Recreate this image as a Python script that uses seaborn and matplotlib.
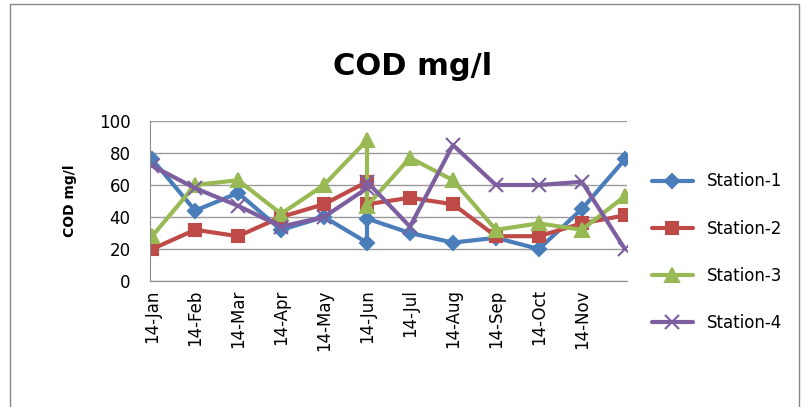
import matplotlib
matplotlib.use('Agg')
import matplotlib.pyplot as plt
import seaborn as sns
import pandas as pd

# month positions (Jun appears twice on the date axis)
xpos = [0, 1, 2, 3, 4, 5, 5, 6, 7, 8, 9, 10, 11]
tick_labels = ['14-Jan', '14-Feb', '14-Mar', '14-Apr', '14-May', '14-Jun',
               '14-Jul', '14-Aug', '14-Sep', '14-Oct', '14-Nov']
station1 = [76, 44, 55, 32, 40, 24, 39, 30, 24, 27, 20, 45, 76]
station2 = [20, 32, 28, 40, 48, 62, 48, 52, 48, 28, 28, 36, 41]
station3 = [28, 60, 63, 42, 60, 88, 47, 77, 63, 32, 36, 32, 53]
station4 = [72, 58, 47, 34, 40, 58, 62, 34, 85, 60, 60, 62, 20]

sns.set_style('white')
plt.rcParams['text.color'] = 'black'
plt.rcParams['xtick.color'] = 'black'
plt.rcParams['ytick.color'] = 'black'
plt.rcParams['axes.labelcolor'] = 'black'
fig = plt.figure(figsize=(8.1, 4.07), dpi=100)
ax = fig.add_axes([150/810, 1-281/407, 477/810, 160/407])

styles = [('Station-1', station1, '#4a7ebb', 'D', 7),
          ('Station-2', station2, '#be4b48', 's', 9),
          ('Station-3', station3, '#98b954', '^', 10),
          ('Station-4', station4, '#7d5fa0', 'x', 10)]
for name, vals, col, mk, ms in styles:
    df = pd.DataFrame({'x': xpos, 'y': vals})
    sns.lineplot(data=df, x='x', y='y', ax=ax, color=col, lw=3, marker=mk,
                 markersize=ms, markeredgecolor=col, markeredgewidth=1.5,
                 label=name, sort=False, estimator=None)

ax.set_xlim(-0.05, 11.05)
ax.set_ylim(0, 100)
ax.set_yticks(range(0, 101, 20))
ax.yaxis.grid(True, color='#9a9a9a', lw=1)
ax.set_xticks(range(len(tick_labels)))
ax.set_xticklabels(tick_labels, rotation=90, fontsize=12)
ax.tick_params(axis='y', labelsize=12, length=0, pad=14)
ax.tick_params(axis='x', length=0, pad=6)
for s in ['top', 'right']:
    ax.spines[s].set_visible(False)
ax.spines['left'].set_color('#8a8a8a')
ax.spines['bottom'].set_color('#8a8a8a')
ax.set_xlabel('')
ax.set_ylabel('COD mg/l', fontsize=10, fontweight='bold', labelpad=16)
fig.text(0.51, 0.815, 'COD mg/l', ha='center', fontsize=22, fontweight='bold')
ax.legend(loc='center left', bbox_to_anchor=(1.02, 0.18), frameon=False,
          fontsize=12, labelspacing=1.75, handlelength=2.5)
fig.patches.append(plt.Rectangle((0.012, -0.01), 0.975, 1.0, transform=fig.transFigure,
                                 fill=False, edgecolor='#888888', lw=1))
fig.savefig('out.png', dpi=100)
